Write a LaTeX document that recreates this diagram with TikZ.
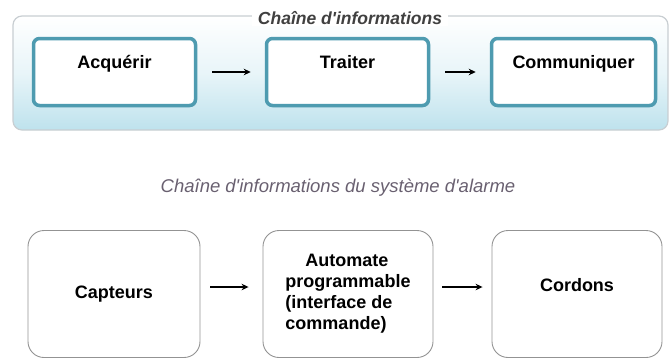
\documentclass[tikz,border=0pt]{standalone}
\usepackage{fontspec}
\setmainfont{Liberation Sans}
\usepackage{tikz}
\usetikzlibrary{arrows.meta,shadows}
\definecolor{bordfonction}{RGB}{78,155,176}
\definecolor{fondchaine}{RGB}{190,226,237}
\definecolor{traitchaine}{RGB}{200,206,210}
\definecolor{legende}{RGB}{105,96,112}
\tikzset{
  every picture/.style = {
    x = 1pt,
    y = -1pt,
    >={Stealth[length=7pt,width=6.5pt]},
  }
  ,
  fonction/.style = {
    rectangle,
    rounded corners = 6pt,
    draw = bordfonction,
    line width = 3.5pt,
    fill = white,
    drop shadow = {opacity=0.25, shadow xshift=1pt, shadow yshift=-1.5pt},
    font = \fontsize{18}{21}\selectfont\bfseries,
    inner sep = 0pt,
    text height = 30pt,
    text depth = 37pt,
    minimum width = 162pt
  }
  , % blocs du systeme d'alarme
  composant/.style = {
    rectangle,
    rounded corners = 16pt,
    draw = gray!85,
    line width = 0.9pt,
    font = \fontsize{18}{21}\selectfont\bfseries,
    minimum width = 170pt,
    minimum height = 127pt
  }
  , % fleches entre blocs
  fleche/.style = {
    ->,
    line width = 1.5pt,
    shorten < = 15pt,
    shorten > = 14pt
  }
}
\begin{document}
\begin{tikzpicture}
\useasboundingbox (0,0) rectangle (670,362);
% cadre de la chaine d'informations
\shade[rounded corners=9pt, top color=white, bottom color=fondchaine, middle color=fondchaine!35]
  (13,16) rectangle (668,130);
\draw[rounded corners=9pt, traitchaine, line width=1.2pt] (13,16) rectangle (668,130);
\node [fill=white, inner xsep=6pt, inner ysep=1pt, font=\fontsize{17.5}{20}\selectfont\bfseries\itshape, text=black!75] (titre) at (350,18) {Chaîne d\textquotesingle informations};

\node [fonction] (acq) at (114.5,72) {Acquérir};
\node [fonction] (trai) at (347.5,72) {Traiter};
\node [fonction, minimum width=164pt] (comm) at (573.5,72) {Communiquer};

\draw [fleche] (acq) -- (trai);
\draw [fleche] (trai) -- (comm);

% chaine du systeme d'alarme
\node [font=\fontsize{18.5}{21}\selectfont\itshape, text=legende] (legende) at (338,188) {Chaîne d\textquotesingle informations du système d\textquotesingle alarme};

\node [composant, minimum width=172pt] (capt) at (114,294) {Capteurs};
\node [composant, align=left] (auto) at (348,294) {\hspace*{1.1em}Automate\\programmable\\(interface de\\commande)};
\node [composant, text depth=18pt] (cord) at (577,294) {Cordons};

\draw [fleche, shorten < = 10pt] ([yshift=7pt]capt.east) -- ([yshift=7pt]auto.west);
\draw [fleche, shorten < = 9pt, shorten > = 9pt] ([yshift=7pt]auto.east) -- ([yshift=7pt]cord.west);
\end{tikzpicture}
\end{document}
